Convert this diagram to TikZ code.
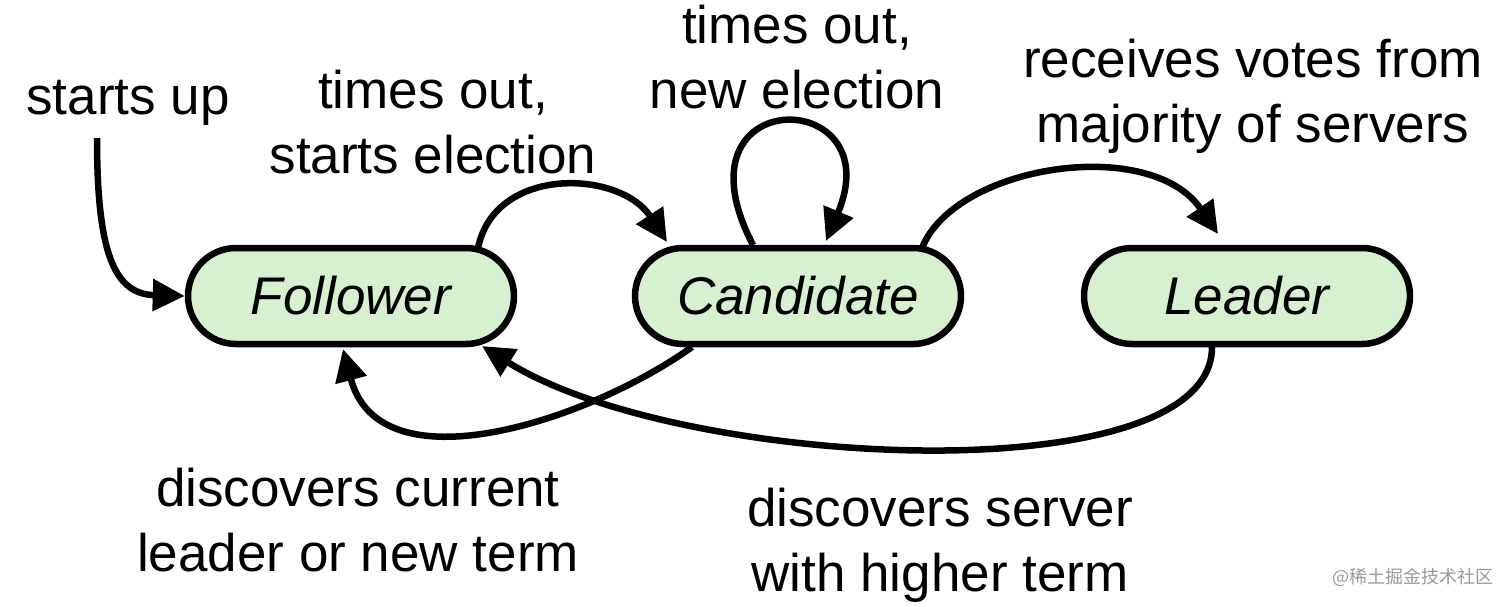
\documentclass[tikz,border=0pt]{standalone}
\usepackage{fontspec}
\setmainfont{Liberation Sans}
\newfontfamily\cjkfont{Noto Sans CJK SC}
\usetikzlibrary{arrows.meta,calc}
\definecolor{stategreen}{RGB}{214,240,208}
\begin{document}
\begin{tikzpicture}[x=1pt,y=-1pt,
  state/.style={draw=black, line width=6.5pt, fill=stategreen, rectangle,
    rounded corners=48pt, minimum width=326pt, minimum height=96pt,
    inner sep=0pt, font=\fontsize{53}{64}\selectfont\itshape},
  lbl/.style={align=center, inner sep=0pt, font=\fontsize{53}{65}\selectfont},
  conn/.style={line width=6.5pt, -{Triangle[length=32pt,width=31pt]}},
]
\useasboundingbox (0,0) rectangle (1512,606);
\node[state] (fol) at (351,296) {Follower};
\node[state] (can) at (798,296) {Candidate};
\node[state] (lea) at (1247,296) {Leader};

\node[lbl] (l1) at (128,103) {starts up};
\node[lbl] (l2) at (433,122) {times out,\\starts election};
\node[lbl] (l3) at (797,57) {times out,\\new election};
\node[lbl] (l4) at (1253,96) {receives votes from\\majority of servers};
\node[lbl] (l5) at (358,520) {discovers current\\leader or new term};
\node[lbl] (l6) at (940,545) {discovers server\\with higher term};
\node[font=\cjkfont\fontsize{18}{20}\selectfont, text=black!40, inner sep=0pt] (wm) at (1413,577) {@稀土掘金技术社区};

\coordinate (su) at (97,138);
\draw[conn] (su) .. controls (97,255) and (115,294) .. (fol.west);
\draw[conn] ($(fol)+(127,-48)$) .. controls (495,165) and (620,170) .. ($(can)+(-131,-54)$);
\draw[conn] ($(can)+(-45,-51)$) .. controls (668,82) and (892,85) .. ($(can)+(28,-55)$);
\draw[conn] ($(can)+(124,-48)$) .. controls (955,165) and (1150,135) .. ($(lea)+(-29,-62)$);
\draw[conn] ($(can)+(-106,51)$) .. controls (590,420) and (380,490) .. ($(fol)+(-8,53)$);
\draw[conn] ($(lea)+(-35,51)$) .. controls (1212,495) and (680,470) .. ($(fol)+(131,50)$);
\end{tikzpicture}
\end{document}
